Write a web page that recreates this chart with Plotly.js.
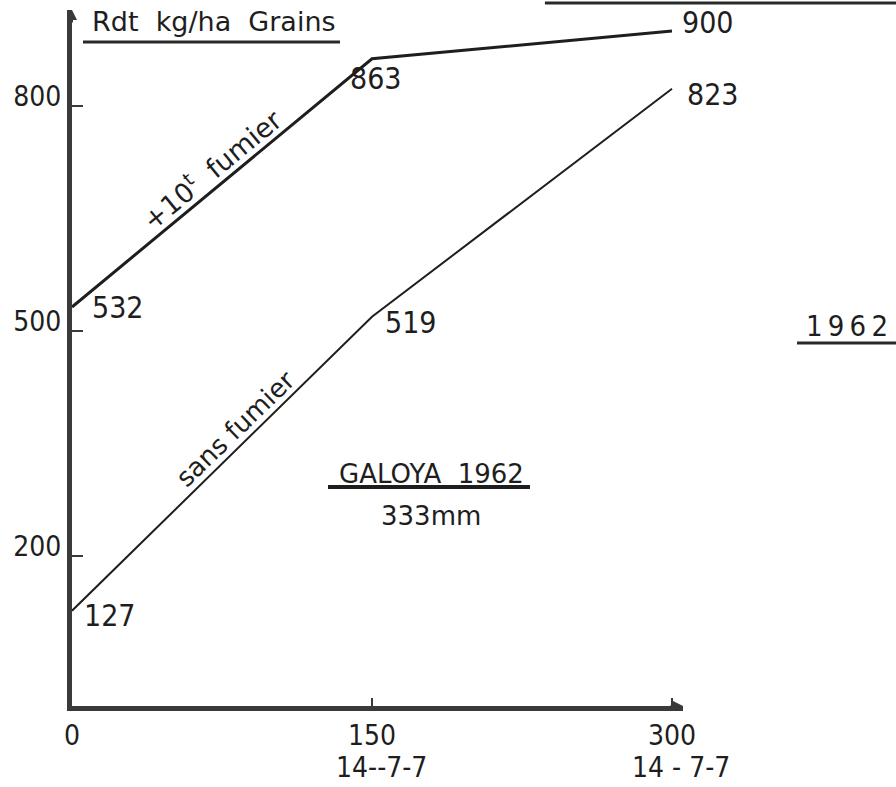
<!DOCTYPE html>
<html>
<head>
<meta charset="utf-8">
<script src="https://cdn.plot.ly/plotly-3.0.1.min.js"></script>
<style>html,body{margin:0;padding:0;background:#fff;}#chart{width:896px;height:787px;}</style>
</head>
<body>
<div id="chart"></div>
<script>
// ---- data ----
const doses = [0, 150, 300];                 // dose d'engrais (kg/ha)
const avecFumier = [532, 863, 900];          // +10t fumier
const sansFumier = [127, 519, 823];          // sans fumier
const xTickLabels = ['0', '150', '300'];
const formules = ['', '14--7-7', '14 - 7-7'];
const yTicks = [200, 500, 800];
const yTickLabels = ['200', '500', '800'];

const NUM = 'Liberation Sans Narrow, DejaVu Sans Condensed, DejaVu Sans, sans-serif';
const TXT = 'DejaVu Sans, Verdana, sans-serif';
const INK = '#1e1e1e';

const traces = [
  {x: doses, y: avecFumier, mode: 'lines', line: {color: INK, width: 3}, hoverinfo: 'skip'},
  {x: doses, y: sansFumier, mode: 'lines', line: {color: INK, width: 2}, hoverinfo: 'skip'}
];

// label offsets (style only)
const offA = [{dx: 18, dy: 0, xa: 'left'}, {dx: 4, dy: -20, xa: 'center'}, {dx: 8, dy: 9, xa: 'left'}];
const offS = [{dx: 10, dy: -5, xa: 'left'}, {dx: 11, dy: -6, xa: 'left'}, {dx: 13, dy: -6, xa: 'left'}];

const annotations = [];
doses.forEach((d, i) => {
  annotations.push({x: d, y: avecFumier[i], xref: 'x', yref: 'y', text: String(avecFumier[i]),
    showarrow: false, xanchor: offA[i].xa, yanchor: 'middle', xshift: offA[i].dx, yshift: offA[i].dy,
    font: {family: NUM, size: 30, color: INK}});
  annotations.push({x: d, y: sansFumier[i], xref: 'x', yref: 'y', text: String(sansFumier[i]),
    showarrow: false, xanchor: offS[i].xa, yanchor: 'middle', xshift: offS[i].dx, yshift: offS[i].dy,
    font: {family: NUM, size: 30, color: INK}});
  if (formules[i]) {
    annotations.push({x: d, y: -0.089, xref: 'x', yref: 'paper', text: formules[i], showarrow: false,
      xanchor: 'center', yanchor: 'middle', xshift: 9, font: {family: NUM, size: 28, color: INK}});
  }
});

annotations.push(
  {x: 0.2324, y: 0.9828, xref: 'paper', yref: 'paper', text: 'Rdt  kg/ha  Grains', showarrow: false,
   xanchor: 'center', yanchor: 'middle', font: {family: TXT, size: 27, color: INK}},
  {x: 0.229, y: 0.773, xref: 'paper', yref: 'paper', text: '+10<sup>t</sup>  fumier', showarrow: false,
   textangle: -39.5, xanchor: 'center', yanchor: 'middle', font: {family: TXT, size: 27, color: INK}},
  {x: 0.267, y: 0.398, xref: 'paper', yref: 'paper', text: 'sans fumier', showarrow: false,
   textangle: -44, xanchor: 'center', yanchor: 'middle', font: {family: TXT, size: 26, color: INK}},
  {x: 0.5876, y: 0.333, xref: 'paper', yref: 'paper', text: 'GALOYA  1962', showarrow: false,
   xanchor: 'center', yanchor: 'middle', font: {family: TXT, size: 26, color: INK}},
  {x: 0.5876, y: 0.273, xref: 'paper', yref: 'paper', text: '333mm', showarrow: false,
   xanchor: 'center', yanchor: 'middle', font: {family: TXT, size: 26, color: INK}},
  {x: 1.3388, y: 0.546, xref: 'paper', yref: 'paper', text: '1\u20099\u20096\u20092', showarrow: false,
   xanchor: 'right', yanchor: 'middle', font: {family: NUM, size: 29, color: INK}},
  // axis arrows
  {x: 0, y: 1, xref: 'paper', yref: 'paper', ax: 0, ay: 14, showarrow: true, arrowhead: 2,
   arrowsize: 1, arrowwidth: 2, arrowcolor: '#3a3a3a', text: ''},
  {x: 1, y: 0, xref: 'paper', yref: 'paper', ax: -14, ay: 0, showarrow: true, arrowhead: 2,
   arrowsize: 1, arrowwidth: 2, arrowcolor: '#3a3a3a', text: ''}
);

const shapes = [
  {type: 'line', xref: 'paper', yref: 'paper', x0: 0.018, x1: 0.4386, y0: 0.954, y1: 0.954, line: {color: '#2a2a2a', width: 3}},
  {type: 'line', xref: 'paper', yref: 'paper', x0: 0.774, x1: 1.35, y0: 1.010, y1: 1.010, line: {color: '#2a2a2a', width: 3}},
  {type: 'line', xref: 'paper', yref: 'paper', x0: 0.419, x1: 0.7496, y0: 0.3147, y1: 0.3147, line: {color: '#1e1e1e', width: 4}},
  {type: 'line', xref: 'paper', yref: 'paper', x0: 1.1866, x1: 1.3486, y0: 0.5216, y1: 0.5216, line: {color: '#2a2a2a', width: 3}}
];

const layout = {
  width: 896, height: 787,
  margin: {l: 72, r: 213, t: 10, b: 81, pad: 0},
  paper_bgcolor: '#ffffff', plot_bgcolor: '#ffffff',
  showlegend: false,
  xaxis: {range: [0, 305.5], showgrid: false, zeroline: false, showline: true, linecolor: '#3a3a3a', linewidth: 5,
    tickmode: 'array', tickvals: doses, ticktext: xTickLabels, ticks: 'inside', ticklen: 8, tickwidth: 2, tickcolor: '#3a3a3a',
    tickfont: {family: NUM, size: 28, color: INK}},
  yaxis: {range: [0, 928], showgrid: false, zeroline: false, showline: true, linecolor: '#3a3a3a', linewidth: 5,
    tickmode: 'array', tickvals: yTicks, ticktext: yTickLabels, ticks: 'inside', ticklen: 11, tickwidth: 2, tickcolor: '#3a3a3a',
    ticklabelshift: -10, tickfont: {family: NUM, size: 28, color: INK}},
  annotations: annotations,
  shapes: shapes
};

Plotly.newPlot('chart', traces, layout, {staticPlot: true, displayModeBar: false});
</script>
</body>
</html>
